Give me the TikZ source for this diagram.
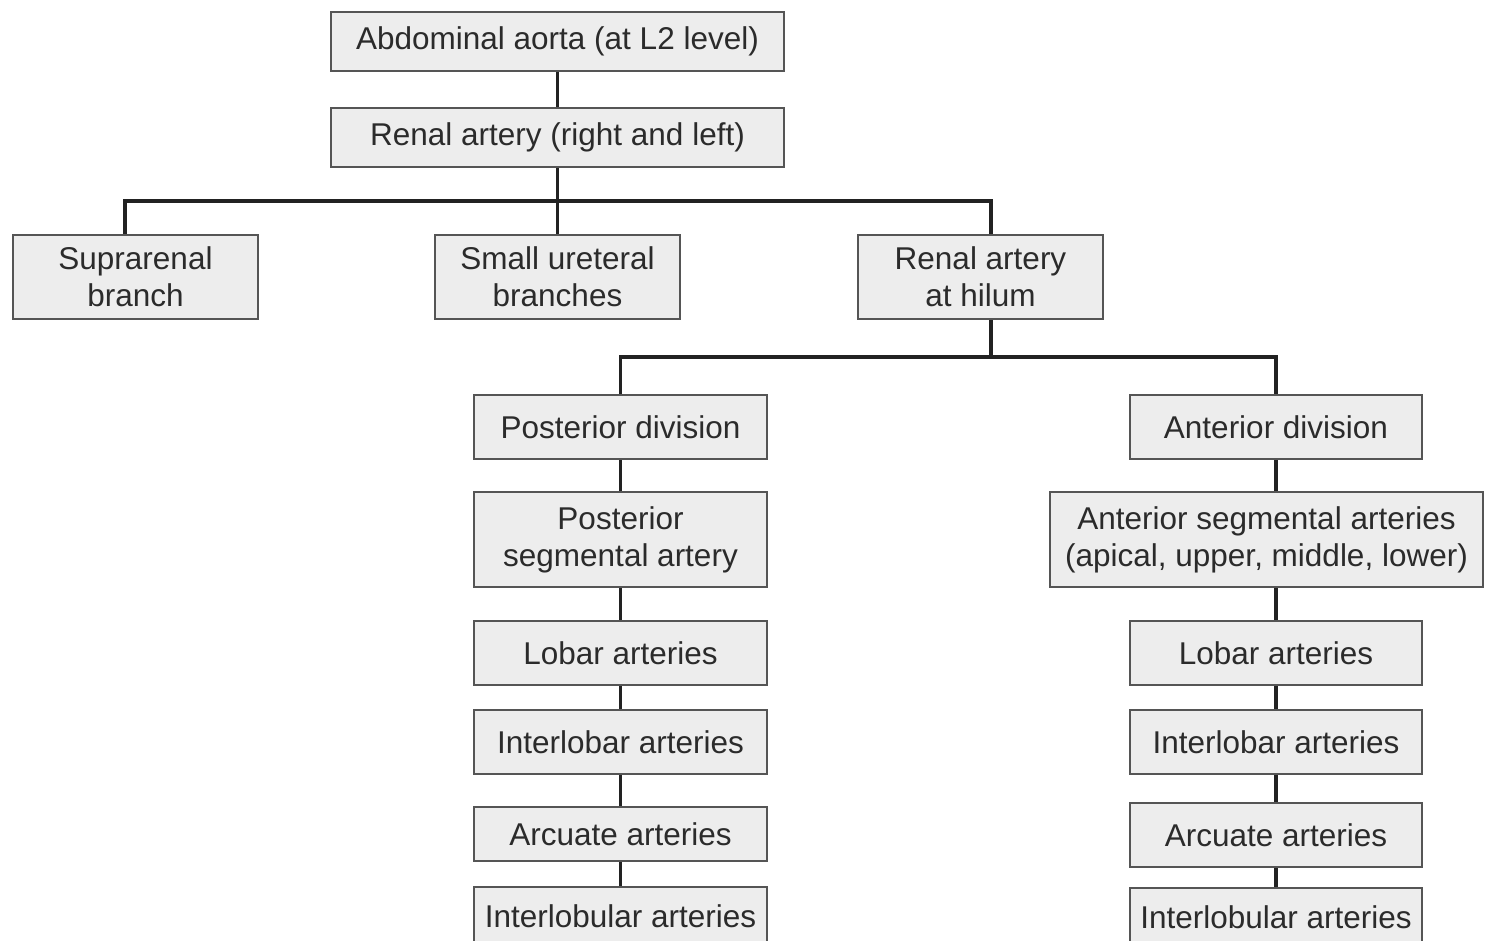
\documentclass[tikz,border=0pt]{standalone}
\usepackage{fontspec}
\setmainfont{Liberation Sans}
\begin{document}
\begin{tikzpicture}[x=1pt,y=-1pt,
  box/.style={draw=boxline, line width=2pt, fill=boxfill, text=txt, inner sep=0pt,
    align=center, font=\fontsize{31.5}{37}\selectfont},
  link/.style={draw=linkcol, line width=3.2pt}]
\definecolor{boxfill}{HTML}{EDEDED}
\definecolor{boxline}{HTML}{555555}
\definecolor{txt}{HTML}{2B2B2B}
\definecolor{linkcol}{HTML}{222222}
\useasboundingbox (0,0) rectangle (1486,940);
\clip (0,0) rectangle (1486,940);

% junction points of the branching connectors
\coordinate (j1) at (557.5,201);
\coordinate (j2) at (991,357);

% boxes: centre, width, height
\node[box, minimum width=453pt, minimum height=59pt] (aorta) at (557.5,41.5) {Abdominal aorta (at L2 level)};
\node[box, minimum width=453pt, minimum height=59pt] (renal) at (557.5,137.5) {Renal artery (right and left)};
\node[box, minimum width=245pt, minimum height=84pt] (supra) at (135.5,277) {Suprarenal\\branch};
\node[box, minimum width=245pt, minimum height=84pt] (uret) at (557.5,277) {Small ureteral\\branches};
\node[box, minimum width=245pt, minimum height=84pt] (hilum) at (980.5,277) {Renal artery\\at hilum};

\node[box, minimum width=293pt, minimum height=64pt] (pdiv) at (620.5,427) {Posterior division};
\node[box, minimum width=293pt, minimum height=95pt] (pseg) at (620.5,539.5) {Posterior\\segmental artery};
\node[box, minimum width=293pt, minimum height=64pt] (plob) at (620.5,653) {Lobar arteries};
\node[box, minimum width=293pt, minimum height=64pt] (pilb) at (620.5,742) {Interlobar arteries};
\node[box, minimum width=293pt, minimum height=54pt] (parc) at (620.5,834) {Arcuate arteries};
\node[box, minimum width=293pt, minimum height=58pt] (pilu) at (620.5,916) {Interlobular arteries};

\node[box, minimum width=292pt, minimum height=64pt] (adiv) at (1276,427) {Anterior division};
\node[box, minimum width=433pt, minimum height=95pt] (aseg) at (1266.5,539.5) {Anterior segmental arteries\\(apical, upper, middle, lower)};
\node[box, minimum width=292pt, minimum height=64pt] (alob) at (1276,653) {Lobar arteries};
\node[box, minimum width=292pt, minimum height=64pt] (ailb) at (1276,742) {Interlobar arteries};
\node[box, minimum width=292pt, minimum height=64pt] (aarc) at (1276,835) {Arcuate arteries};
\node[box, minimum width=292pt, minimum height=58pt] (ailu) at (1276,917) {Interlobular arteries};

% connectors
\draw[link] (aorta.south) -- (renal.north);
\draw[link] (renal.south) -- (j1);
\draw[link] ([xshift=-10.5pt]supra.north) |- (j1) -| ([xshift=10.5pt]hilum.north);
\draw[link] (j1) -- (uret.north);
\draw[link] ([xshift=10.5pt]hilum.south) -- (j2);
\draw[link] (pdiv.north) |- (j2) -| (adiv.north);

\draw[link] (pdiv.south) -- (pseg.north);
\draw[link] (pseg.south) -- (plob.north);
\draw[link] (plob.south) -- (pilb.north);
\draw[link] (pilb.south) -- (parc.north);
\draw[link] (parc.south) -- (pilu.north);

\draw[link] (adiv.south) -- (adiv.south |- aseg.north);
\draw[link] (alob.north |- aseg.south) -- (alob.north);
\draw[link] (alob.south) -- (ailb.north);
\draw[link] (ailb.south) -- (aarc.north);
\draw[link] (aarc.south) -- (ailu.north);
\end{tikzpicture}
\end{document}
